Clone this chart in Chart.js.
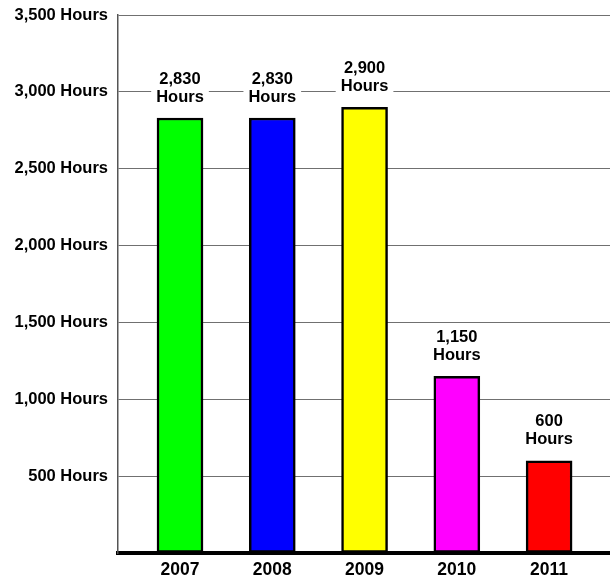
<!DOCTYPE html>
<html><head><meta charset="utf-8">
<script src="https://cdn.jsdelivr.net/npm/chart.js@4/dist/chart.umd.min.js"></script>
<style>html,body{margin:0;padding:0;background:#fff}#wrap{width:610px;height:578px}</style>
</head><body><div id="wrap"><canvas id="c" width="610" height="578"></canvas></div>
<script>
const years = ['2007', '2008', '2009', '2010', '2011'];
const hours = [2830, 2830, 2900, 1150, 600];
const barColors = ['#00ff00', '#0000ff', '#ffff00', '#ff00ff', '#ff0000'];
const yMax = 3500;
const yStep = 500;

const FAMILY = '"Liberation Sans", Arial, sans-serif';
const fmt = v => v.toLocaleString('en-US');

const labelPlugin = {
  id: 'barLabels',
  afterDraw(chart) {
    const ctx = chart.ctx;
    const meta = chart.getDatasetMeta(0);
    ctx.save();
    ctx.font = 'bold 16.5px ' + FAMILY;
    ctx.textAlign = 'center';
    ctx.textBaseline = 'middle';
    meta.data.forEach((bar, i) => {
      const lines = [fmt(hours[i]), 'Hours'];
      const x = bar.x, top = bar.y;
      const w = Math.max(...lines.map(l => ctx.measureText(l).width)) + 10;
      ctx.fillStyle = '#fff';
      ctx.fillRect(x - w / 2, top - 50, w, 40);
      ctx.fillStyle = '#000';
      ctx.fillText(lines[0], x, top - 39);
      ctx.fillText(lines[1], x, top - 21);
    });
    ctx.restore();
  }
};

new Chart(document.getElementById('c'), {
  type: 'bar',
  data: {
    datasets: [{
      data: hours.map((v, i) => ({x: i, y: v})),
      backgroundColor: barColors,
      borderColor: '#000',
      borderWidth: 2.5,
      borderSkipped: false,
      barThickness: 46
    }]
  },
  options: {
    responsive: false,
    animation: false,
    layout: {padding: {top: 15, right: 0, left: 0, bottom: 0}},
    plugins: {legend: {display: false}, tooltip: {enabled: false}},
    scales: {
      x: {
        type: 'linear',
        offset: false,
        min: -0.672,
        max: 4.66,
        z: 1,
        afterBuildTicks: s => { s.ticks = years.map((_, i) => ({value: i})); },
        afterFit: s => { s.height = 25; s.paddingLeft = 0; s.paddingRight = 0; },
        ticks: {
          callback: v => years[v],
          font: {family: FAMILY, size: 17.5, weight: 'bold'}, color: '#000', padding: -1, maxRotation: 0, autoSkip: false
        },
        grid: {display: false},
        border: {display: true, color: '#000', width: 4}
      },
      y: {
        min: 0, max: yMax,
        z: 1,
        afterFit: s => { s.width = 118; s.paddingTop = 0; s.paddingBottom = 0; },
        ticks: {
          stepSize: yStep,
          callback: v => v === 0 ? '' : fmt(v) + ' Hours',
          font: {family: FAMILY, size: 16.5, weight: 'bold'}, color: '#000', padding: 10
        },
        grid: {color: '#707070', lineWidth: 1, drawTicks: false},
        border: {display: true, color: '#555', width: 1.5}
      }
    }
  },
  plugins: [labelPlugin]
});
</script>
</body></html>
